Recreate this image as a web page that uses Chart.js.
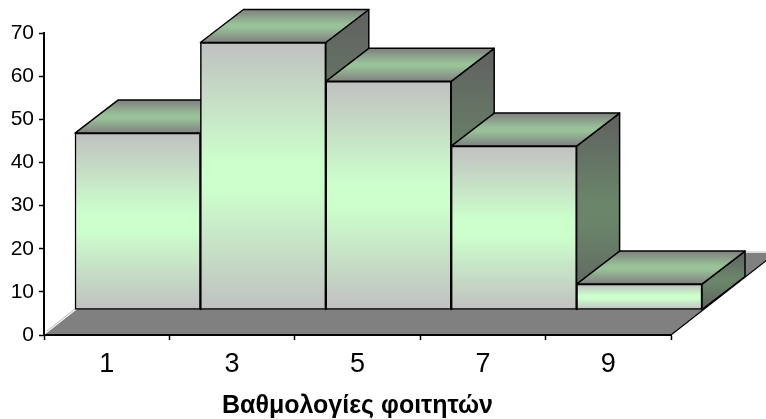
<!DOCTYPE html>
<html lang="el">
<head>
  <meta charset="UTF-8">
  <title>Βαθμολογίες φοιτητών</title>
  <script src="https://cdn.jsdelivr.net/npm/chart.js"></script>
  <style>
    html, body { margin: 0; padding: 0; background: #fff; }
    #wrap { width: 766px; height: 419px; }
  </style>
</head>
<body>
  <div id="wrap"><canvas id="grades"></canvas></div>
  <script>
    var categories = ["1", "3", "5", "7", "9"];
    var students = [41, 62, 53, 38, 6];
    var axisTitle = "Βαθμολογίες φοιτητών";

    // 3d look: bars sit back from the axes, then extend further back
    var shiftX = 31, shiftY = -25;
    var depthX = 43, depthY = -33;
    var floorX = 105, floorY = -82;

    function fade(ctx, top, bottom, edge, middle) {
      var g = ctx.createLinearGradient(0, top, 0, bottom);
      g.addColorStop(0, edge);
      g.addColorStop(0.45, middle);
      g.addColorStop(0.55, middle);
      g.addColorStop(1, edge);
      return g;
    }

    function face(ctx, pts, fill) {
      ctx.beginPath();
      ctx.moveTo(pts[0][0], pts[0][1]);
      for (var i = 1; i < pts.length; i++) ctx.lineTo(pts[i][0], pts[i][1]);
      ctx.closePath();
      ctx.fillStyle = fill;
      ctx.fill();
      ctx.stroke();
    }

    var bars3d = {
      id: "bars3d",
      beforeDatasetsDraw: function (chart) {
        // floor of the chart
        var ctx = chart.ctx, a = chart.chartArea;
        ctx.save();
        ctx.fillStyle = "#dddddd";
        ctx.fillRect(a.left + floorX, a.bottom + floorY - 2, a.width, 2);
        ctx.beginPath();
        ctx.moveTo(a.left, a.bottom);
        ctx.lineTo(a.right, a.bottom);
        ctx.lineTo(a.right + floorX, a.bottom + floorY);
        ctx.lineTo(a.left + floorX, a.bottom + floorY);
        ctx.closePath();
        ctx.fillStyle = "#808080";
        ctx.fill();
        ctx.strokeStyle = "#000";
        ctx.lineWidth = 1.2;
        ctx.beginPath();
        ctx.moveTo(a.right, a.bottom);
        ctx.lineTo(a.right + floorX, a.bottom + floorY);
        ctx.stroke();
        // white wall behind the bars
        ctx.fillStyle = "#fff";
        ctx.beginPath();
        ctx.moveTo(a.left, a.bottom);
        ctx.lineTo(a.left + shiftX, a.bottom + shiftY);
        ctx.lineTo(a.left + floorX, a.bottom + floorY);
        ctx.lineTo(a.left, a.bottom + floorY);
        ctx.closePath();
        ctx.fill();
        ctx.strokeStyle = "#b8b8b8";
        ctx.lineWidth = 1;
        ctx.beginPath();
        ctx.moveTo(a.left + 3, a.bottom - 4);
        ctx.lineTo(a.left + shiftX, a.bottom + shiftY - 1);
        ctx.stroke();
        ctx.restore();
      },
      beforeDatasetDraw: function (chart, args) {
        var ctx = chart.ctx;
        ctx.save();
        ctx.translate(shiftX, shiftY);
        ctx.strokeStyle = "#000";
        ctx.lineJoin = "round";
        ctx.lineWidth = 1.5;
        args.meta.data.forEach(function (bar) {
          var p = bar.getProps(["x", "y", "base", "width"], true);
          var l = p.x - p.width / 2, r = p.x + p.width / 2;
          face(ctx, [[r, p.y], [r + depthX, p.y + depthY], [r + depthX, p.base + depthY], [r, p.base]],
            fade(ctx, p.y + depthY, p.base, "#606060", "#6a856a"));
          face(ctx, [[l, p.y], [l + depthX, p.y + depthY], [r + depthX, p.y + depthY], [r, p.y]],
            fade(ctx, p.y + depthY, p.y, "#808080", "#99c299"));
          bar.draw(ctx);
        });
        ctx.restore();
        return false;
      }
    };

    new Chart(document.getElementById("grades"), {
      type: "bar",
      data: {
        labels: categories,
        datasets: [{
          data: students,
          categoryPercentage: 1,
          barPercentage: 1,
          borderColor: "#000",
          borderWidth: 1.5,
          borderSkipped: false,
          backgroundColor: function (c) {
            var s = c.chart.scales.y;
            var top = s ? s.getPixelForValue(c.raw) : NaN;
            var bottom = s ? s.getPixelForValue(0) : NaN;
            if (!isFinite(top) || !isFinite(bottom)) return "#ccffcc";
            // drawn inside the translate in bars3d, so no shift here
            return fade(c.chart.ctx, top, bottom, "#c0c0c0", "#ccffcc");
          }
        }]
      },
      options: {
        responsive: true,
        maintainAspectRatio: false,
        animation: false,
        layout: { padding: { top: 33, right: 95, left: 0, bottom: 0 } },
        plugins: { legend: { display: false }, title: { display: false }, tooltip: { enabled: false } },
        scales: {
          x: {
            afterFit: function (s) { s.height = 84; },
            border: { color: "#000", width: 2, z: 1 },
            grid: { display: true, drawOnChartArea: false, offset: true, color: "#000", tickLength: 5, tickWidth: 1.5 },
            ticks: { color: "#000", padding: 8, maxRotation: 0, font: { family: "Liberation Sans", size: 27 } },
            title: { display: true, text: axisTitle, color: "#000", padding: { top: 8, bottom: 0 }, font: { family: "Liberation Sans", size: 25, weight: "bold", lineHeight: 1.05 } }
          },
          y: {
            min: 0,
            max: 70,
            afterFit: function (s) { s.width = 44; },
            border: { color: "#000", width: 2, z: 1 },
            grid: { display: true, drawOnChartArea: false, color: "#000", tickLength: 5, tickWidth: 1.5 },
            ticks: { stepSize: 10, color: "#000", padding: 5, font: { family: "Liberation Sans", size: 21 } }
          }
        }
      },
      plugins: [bars3d]
    });
  </script>
</body>
</html>
